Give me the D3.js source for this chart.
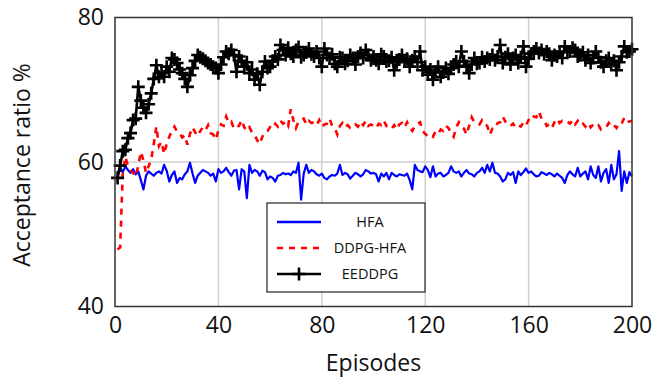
<!DOCTYPE html>
<html>
<head>
<meta charset="utf-8">
<script src="https://cdn.jsdelivr.net/npm/d3@7"></script>
<style>
  body { margin: 0; background: white; }
  text { font-family: "Open Sans", "DejaVu Sans", sans-serif; fill: #111; }
</style>
</head>
<body>
<div id="chart"></div>
<script>
// acceptance ratio per episode (1..200)
const hfa = [
58.5,59.2,58.6,59.4,58.9,58.5,59.0,58.3,58.7,57.5, 56.2,58.1,58.7,58.4,58.1,58.5,58.7,58.4,59.6,58.8,
57.3,58.2,58.7,57.1,57.8,57.6,58.3,58.7,59.9,58.4, 57.1,58.1,58.5,58.9,58.7,58.5,58.1,58.4,57.3,59.0,
58.5,58.7,59.2,58.6,58.1,58.8,58.9,56.2,59.0,58.7, 55.0,59.6,58.5,58.9,58.7,58.1,58.8,58.6,57.6,58.0,
57.8,57.3,58.1,58.2,58.5,58.3,58.4,58.2,58.7,58.5, 59.9,54.8,58.4,59.6,58.5,58.9,58.7,58.3,58.1,58.4,
57.8,57.6,58.0,58.2,58.1,58.4,59.6,58.2,58.5,58.3, 57.7,58.1,58.5,58.3,58.0,58.3,58.9,58.7,58.4,58.5,
58.3,57.3,58.4,58.0,58.5,57.6,58.5,58.2,58.0,58.3, 58.2,58.1,58.4,57.5,56.2,59.6,58.9,58.7,58.6,59.4,
58.9,57.9,59.4,58.0,58.4,58.5,58.0,58.2,58.5,59.4, 58.7,58.5,58.7,58.0,58.5,58.9,58.4,58.3,58.0,58.5,
58.7,59.2,58.5,59.6,58.7,59.9,58.5,58.4,58.0,57.3, 57.6,58.5,58.2,58.6,57.1,58.7,58.2,58.6,59.1,58.5,
58.7,58.3,58.0,58.1,58.6,58.4,58.2,58.5,58.3,58.0, 58.4,58.1,57.8,57.1,58.2,58.7,58.3,58.0,59.2,58.0,
58.4,58.7,57.6,59.4,58.2,57.8,59.4,57.3,58.5,59.0, 57.1,59.6,57.6,58.3,61.5,56.0,58.7,57.1,58.6,58.0
]
const ddpg_hfa = [
47.9,48.2,58.5,60.7,59.5,58.8,58.5,58.0,59.5,61.4, 60.2,58.5,59.4,60.3,62.5,64.9,62.2,62.8,61.1,62.5,
63.5,64.3,64.9,64.2,64.0,63.4,63.7,62.4,63.9,64.8, 64.1,63.6,64.3,64.8,64.4,65.1,64.0,63.8,63.1,64.4,
65.2,65.0,66.3,65.4,65.6,64.6,64.9,65.0,65.8,64.8, 64.3,64.8,64.1,63.8,63.0,62.5,63.5,64.2,64.3,64.8,
64.6,65.3,64.9,65.7,65.3,65.6,65.0,67.3,65.8,64.7, 65.6,65.9,66.0,65.2,65.7,65.4,65.5,65.1,65.8,64.9,
65.2,65.3,66.0,65.0,64.7,63.8,65.0,65.4,64.8,65.1, 64.7,64.8,65.2,64.9,65.6,65.1,65.7,65.0,65.2,65.0,
64.7,65.3,65.1,65.7,65.0,65.0,64.6,65.1,64.5,65.2, 65.4,64.8,65.5,64.7,64.3,65.0,65.3,65.5,64.3,63.9,
63.6,63.8,63.5,64.2,63.9,64.5,64.3,65.0,64.7,64.0, 63.5,64.8,65.5,64.8,64.6,63.8,65.0,66.2,65.5,65.4,
65.2,65.8,65.3,65.0,63.8,64.6,64.6,65.4,65.5,66.3, 65.6,65.5,65.0,65.3,64.8,65.1,64.9,65.5,65.1,65.8,
65.6,66.3,66.2,67.0,66.0,65.8,65.0,65.2,64.7,65.5, 66.0,65.4,65.7,65.5,65.6,65.3,65.8,65.2,65.7,65.1,
65.3,64.9,65.4,64.8,65.2,64.9,65.1,64.5,64.7,64.8, 65.4,64.9,65.1,64.7,65.4,65.3,66.1,65.5,65.6,65.7
]
const eeddpg = [
57.8,59.5,61.5,61.7,63.3,64.0,65.8,66.0,70.4,68.5, 67.5,66.8,68.0,69.5,71.5,73.4,71.8,72.3,71.8,73.2,
72.5,74.4,74.2,73.7,72.8,72.3,71.5,70.4,72.0,73.0, 74.0,74.8,74.5,74.3,74.0,73.7,73.5,73.2,73.0,72.3,
73.5,74.5,75.3,75.0,75.5,74.8,72.5,74.6,74.0,73.2, 73.8,72.3,72.8,71.4,72.2,70.7,72.5,73.9,73.0,73.2,
74.0,74.6,74.2,76.2,75.5,74.8,75.8,75.0,74.6,75.5, 75.9,74.5,74.8,75.2,75.7,74.9,74.6,75.3,74.4,73.2,
75.7,74.8,74.4,74.9,73.6,73.2,74.5,74.4,73.6,74.0, 74.8,74.4,73.5,74.6,75.1,74.4,75.5,74.8,74.1,74.6,
74.1,73.6,74.9,74.6,73.9,74.0,74.5,72.7,73.8,74.2, 74.8,73.9,74.3,73.2,74.1,74.6,73.8,75.3,72.7,73.2,
72.1,72.8,71.4,72.5,73.2,71.8,72.4,73.0,72.2,73.0, 73.5,73.9,73.2,75.3,73.9,73.3,72.3,73.5,74.4,73.6,
73.7,74.5,73.9,74.4,74.2,74.8,74.1,74.6,76.2,73.7, 74.5,75.0,73.5,74.4,74.8,73.7,74.5,76.0,73.2,74.3,
75.0,75.3,75.7,75.1,75.5,74.9,75.3,75.0,74.1,74.8, 74.6,75.2,74.4,76.0,75.3,75.3,75.8,75.5,74.6,74.8,
75.2,74.1,74.8,73.7,74.4,75.3,74.5,73.8,73.2,74.0, 74.4,73.5,74.0,72.7,73.8,74.6,76.0,75.2,75.3,75.6
]
const episodes = d3.range(1, hfa.length + 1)
const x_ticks = [0, 40, 80, 120, 160, 200]
const y_ticks = [40, 60, 80]
const names = ["HFA", "DDPG-HFA", "EEDDPG"]

const WIDTH = 655, HEIGHT = 380
const LEFT = 115, TOP = 17.5, RIGHT = 23, BOTTOM = 73.5
const w = WIDTH - LEFT - RIGHT, h = HEIGHT - TOP - BOTTOM
const PLUS = "M-6.5,0H6.5M0,-6.5V6.5"

const svg = d3.select("#chart").append("svg").attr("width", WIDTH).attr("height", HEIGHT)
const g = svg.append("g").attr("transform", "translate(" + LEFT + "," + TOP + ")")

const x_scale = d3.scaleLinear().domain([0, 200]).range([0, w])
const y_scale = d3.scaleLinear().domain([40, 80]).range([h, 0])

// grid
g.append("g").selectAll("line").data([40, 80, 120, 160]).enter().append("line")
  .attr("x1", d => x_scale(d)).attr("x2", d => x_scale(d)).attr("y1", 0).attr("y2", h)
  .attr("stroke", "#cfcfcf").attr("stroke-width", 1.5)
g.append("g").selectAll("line").data([60]).enter().append("line")
  .attr("x1", 0).attr("x2", w).attr("y1", d => y_scale(d)).attr("y2", d => y_scale(d))
  .attr("stroke", "#cfcfcf").attr("stroke-width", 1.5)

// axes
const gen_x = d3.axisBottom(x_scale).tickValues(x_ticks).tickSize(0).tickPadding(10)
const xa = g.append("g").attr("transform", "translate(0," + h + ")").call(gen_x)
xa.select(".domain").remove()
xa.selectAll("text").style("font-size", "23px").attr("dy", "0.72em")

const gen_y = d3.axisLeft(y_scale).tickValues(y_ticks).tickSize(0).tickPadding(11)
const ya = g.append("g").call(gen_y)
ya.select(".domain").remove()
ya.selectAll("text").style("font-size", "23px")

// lines
const line = d3.line().x((d, i) => x_scale(episodes[i])).y(d => y_scale(d))

g.append("path").datum(hfa).attr("d", line).attr("fill", "none")
  .attr("stroke", "#0000ff").attr("stroke-width", 2.2).attr("stroke-linejoin", "round")
g.append("path").datum(ddpg_hfa).attr("d", line).attr("fill", "none")
  .attr("stroke", "#ff0000").attr("stroke-width", 2.6).attr("stroke-dasharray", "6,6")
g.append("path").datum(eeddpg).attr("d", line).attr("fill", "none")
  .attr("stroke", "black").attr("stroke-width", 2.6).attr("stroke-linejoin", "round")

g.append("g").selectAll("path").data(eeddpg).enter().append("path")
  .attr("transform", (d, i) => "translate(" + x_scale(episodes[i]) + "," + y_scale(d) + ")")
  .attr("d", PLUS).attr("stroke", "black").attr("stroke-width", 2.6).attr("fill", "none")

// frame
g.append("rect").attr("width", w).attr("height", h).attr("fill", "none")
  .attr("stroke", "#333").attr("stroke-width", 1.5)

// labels
g.append("text").attr("x", w / 2).attr("y", HEIGHT - TOP - 9).attr("text-anchor", "middle")
  .style("font-size", "23px").text("Episodes")
g.append("text").attr("transform", "rotate(270)").attr("x", -(h / 2 + 3)).attr("y", -LEFT + 30)
  .attr("text-anchor", "middle").style("font-size", "23px").text("Acceptance ratio %")

// legend
const legend = svg.append("g").attr("transform", "translate(267,203)")
legend.append("rect").attr("width", 158).attr("height", 89).attr("fill", "white")
  .attr("stroke", "#222").attr("stroke-width", 1.2)
const styles = [
  {color: "#0000ff", dash: null, mark: false},
  {color: "#ff0000", dash: "6,6", mark: false},
  {color: "black", dash: null, mark: true}
]
names.forEach((name, i) => {
  const row = legend.append("g").attr("transform", "translate(0," + (19 + i * 26) + ")")
  row.append("line").attr("x1", 10).attr("x2", 54).attr("stroke", styles[i].color)
    .attr("stroke-width", 2.6).attr("stroke-dasharray", styles[i].dash)
  if (styles[i].mark) {
    row.append("path").attr("transform", "translate(32,0)").attr("d", PLUS)
      .attr("stroke", "black").attr("stroke-width", 2.6)
  }
  row.append("text").attr("x", 103).attr("dy", "0.35em").attr("text-anchor", "middle")
    .style("font-size", "14.5px").text(name)
})
</script>
</body>
</html>
